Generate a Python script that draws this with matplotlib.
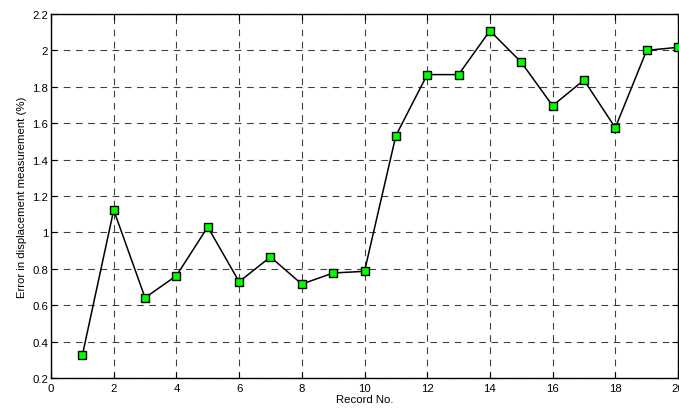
import numpy as np
import matplotlib.pyplot as plt

# record numbers and displacement error (%)
records = np.arange(1, 21)
error = [0.325, 1.123, 0.641, 0.762, 1.03, 0.729, 0.865, 0.716, 0.777, 0.786,
         1.531, 1.867, 1.867, 2.108, 1.935, 1.696, 1.837, 1.575, 2.0, 2.017]
xticks = [0, 2, 4, 6, 8, 10, 12, 14, 16, 18, 20]
yticks = [0.2, 0.4, 0.6, 0.8, 1, 1.2, 1.4, 1.6, 1.8, 2, 2.2]
ytick_labels = ["0.2", "0.4", "0.6", "0.8", "1", "1.2", "1.4", "1.6", "1.8", "2", "2.2"]

plt.rcParams['font.family'] = ['Liberation Sans', 'DejaVu Sans']

fig = plt.figure(figsize=(6.79, 4.10), dpi=100)
ax = fig.add_axes([51/679, 1 - 379/410, 627/679, 364/410])

ax.plot(records, error, color='black', lw=1.1, marker='s', ms=5.5,
        markerfacecolor='#00ff00', markeredgecolor='black', markeredgewidth=1.0,
        clip_on=False, zorder=3)

ax.set_xlim(0, 20)
ax.set_ylim(0.2, 2.2)
ax.set_xticks(xticks)
ax.set_yticks(yticks)
ax.set_yticklabels(ytick_labels)
ax.grid(True, color='black', linestyle=(0, (6, 5)), lw=0.8, alpha=0.75)
ax.tick_params(direction='in', top=True, right=True, labelsize=8.2, length=4)
ax.tick_params(axis='x', pad=3.5)
ax.tick_params(axis='y', pad=2)
for s in ax.spines.values():
    s.set_linewidth(1.0)

ax.set_xlabel("Record No.", fontsize=8.2, labelpad=1)
ax.set_ylabel("Error in displacement measurement (%)", fontsize=8.2, labelpad=4)

fig.savefig("out.png", dpi=100)
